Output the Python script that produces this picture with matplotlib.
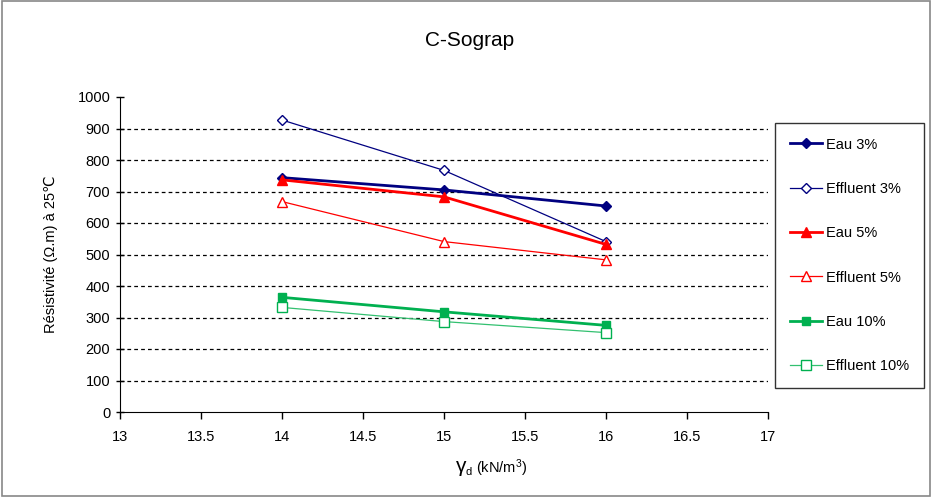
import matplotlib
matplotlib.use("Agg")
import matplotlib.pyplot as plt
from matplotlib.patches import Rectangle

plt.rcParams['font.family'] = ['Liberation Sans', 'DejaVu Sans']
plt.rcParams['mathtext.fontset'] = 'custom'
plt.rcParams['mathtext.rm'] = 'Liberation Sans'
plt.rcParams['mathtext.it'] = 'Liberation Sans:italic'

###################################
# Data

gamma_d = [14, 15, 16]
eau_3 = [744, 705, 654]
effluent_3 = [927, 767, 541]
eau_5 = [737, 683, 532]
effluent_5 = [668, 541, 483]
eau_10 = [364, 318, 275]
effluent_10 = [332, 287, 252]

x_ticks = [13, 13.5, 14, 14.5, 15, 15.5, 16, 16.5, 17]
y_ticks = list(range(0, 1001, 100))

###################################
# Figure

fig = plt.figure(figsize=(9.32, 4.97), dpi=100)
W, H = 932, 497
ax = fig.add_axes([120 / W, 1 - 412 / H, (768 - 120) / W, (412 - 97) / H])

# outer frame of the chart
fig.patches.append(Rectangle((0.002, 0.002), 0.996, 0.996, transform=fig.transFigure,
                             fill=False, edgecolor='#888888', linewidth=1.2))

navy = '#000080'
red = '#ff0000'
green = '#00b050'
light_green = '#33c070'

ax.plot(gamma_d, eau_3, color=navy, lw=2, marker='D', ms=5.5, label='Eau 3%')
ax.plot(gamma_d, effluent_3, color=navy, lw=0.9, marker='D', ms=5.5, mfc='white', mew=1, label='Effluent 3%')
ax.plot(gamma_d, eau_5, color=red, lw=2, marker='^', ms=7, label='Eau 5%')
ax.plot(gamma_d, effluent_5, color=red, lw=0.9, marker='^', ms=7, mfc='white', mew=1, label='Effluent 5%')
ax.plot(gamma_d, eau_10, color=green, lw=2, marker='s', ms=6, label='Eau 10%')
ax.plot(gamma_d, effluent_10, color=light_green, lw=0.9, marker='s', ms=7, mfc='white', mec=green, mew=1, label='Effluent 10%')

# dashed grid lines
for yv in y_ticks[1:-1]:
    ax.axhline(yv, color='black', lw=0.9, ls=(0, (3, 2.5)), zorder=0)

ax.set_xlim(13, 17)
ax.set_ylim(0, 1000)
ax.set_xticks(x_ticks)
ax.set_xticklabels(['13', '13.5', '14', '14.5', '15', '15.5', '16', '16.5', '17'])
ax.set_yticks(y_ticks)
ax.tick_params(axis='both', direction='inout', length=6, width=1, labelsize=10.5, pad=4)
ax.tick_params(axis='x', direction='out', length=5, pad=8)
for s in ['top', 'right']:
    ax.spines[s].set_visible(False)

ax.set_ylabel('Résistivité (Ω.m) à 25℃', fontsize=10.5, labelpad=14)

# x axis label: gamma with subscript d
fig.text(466 / W, 1 - 467 / H, 'γ', fontsize=15, ha='right', va='center')
fig.text(466 / W, 1 - 472 / H, 'd', fontsize=8, ha='left', va='center')
fig.text(476 / W, 1 - 468 / H, '(kN/m$^3$)', fontsize=10.5, ha='left', va='center')

fig.text(470 / W, 1 - 40 / H, 'C-Sograp', fontsize=15, ha='center', va='center')

leg = fig.legend(loc='upper left', bbox_to_anchor=(775 / W, 1 - 123 / H),
                 frameon=True, fancybox=False, edgecolor='black', fontsize=10.5,
                 labelspacing=2.08, handlelength=2.2, handletextpad=0.3,
                 borderpad=1.0, borderaxespad=0)
leg.get_frame().set_linewidth(1)

fig.savefig('out.png', dpi=100)
